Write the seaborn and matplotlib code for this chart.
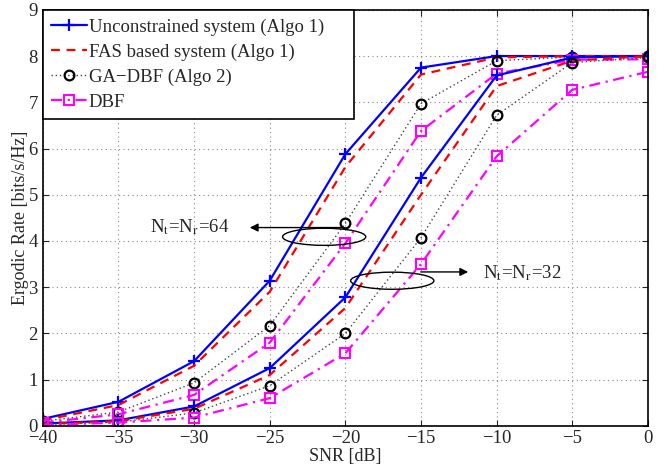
import matplotlib
matplotlib.use("Agg")
import matplotlib.pyplot as plt
import seaborn as sns
import numpy as np
from matplotlib.patches import Ellipse

snr = [-40, -35, -30, -25, -20, -15, -10, -5, 0]

unc_64 = [0.15, 0.52, 1.40, 3.14, 5.88, 7.75, 8.00, 8.00, 8.00]
fas_64 = [0.12, 0.45, 1.30, 2.90, 5.60, 7.60, 7.97, 8.00, 8.00]
ga_64 = [0.10, 0.30, 0.93, 2.17, 4.38, 6.97, 7.90, 7.98, 8.00]
dbf_64 = [0.07, 0.25, 0.67, 1.80, 3.95, 6.38, 7.62, 7.92, 7.93]

unc_32 = [0.05, 0.12, 0.42, 1.25, 2.78, 5.37, 7.58, 7.97, 8.00]
fas_32 = [0.04, 0.10, 0.37, 1.10, 2.55, 5.00, 7.35, 7.90, 8.00]
ga_32 = [0.03, 0.08, 0.28, 0.87, 2.00, 4.07, 6.72, 7.86, 7.97]
dbf_32 = [0.02, 0.07, 0.18, 0.60, 1.57, 3.50, 5.83, 7.27, 7.66]

labels = ["Unconstrained system (Algo 1)", "FAS based system (Algo 1)",
          "GA\u2212DBF (Algo 2)", "DBF"]

sns.set_style("ticks")
plt.rcParams['font.family'] = ['Liberation Serif', 'DejaVu Serif']
plt.rcParams['mathtext.fontset'] = 'stix'

fig = plt.figure(figsize=(6.68, 4.68), dpi=100)
ax = fig.add_axes([0.064, 0.09, 0.906, 0.889])

styles = [
    dict(color="#0000ff", linestyle="-", marker="+", markersize=9, mew=1.6,
         mec="#0000ff", lw=1.6),
    dict(color="#ff0000", linestyle=(0, (4, 3)), marker=None, lw=1.6),
    dict(color="#444444", linestyle=(0, (1, 2)), marker="o", markersize=7, mew=1.6,
         mfc="none", mec="black", lw=1.0),
    dict(color="#ff00ff", linestyle=(0, (5, 2.5, 1, 2.5)), marker="s", markersize=6.5, mew=1.5,
         mfc="none", mec="#ff00ff", lw=1.6),
]

for vals, st, lab in zip([unc_64, fas_64, ga_64, dbf_64], styles, labels):
    sns.lineplot(x=snr, y=vals, ax=ax, label=lab, **st)
for vals, st in zip([unc_32, fas_32, ga_32, dbf_32], styles):
    sns.lineplot(x=snr, y=vals, ax=ax, label="_nolegend_", **st)

ax.set_xlim(-40, 0)
ax.set_ylim(0, 9)
ax.set_xticks(range(-40, 1, 5))
ax.set_yticks(range(0, 10))
ax.set_xticklabels([f"\u2212{abs(v)}" if v < 0 else str(v) for v in range(-40, 1, 5)])
ax.tick_params(direction="in", labelsize=13.5, length=4, width=0.8, top=True, right=True)
ax.tick_params(axis="x", pad=3)
ax.grid(True, linestyle=(0, (1, 3)), color="#888888", lw=0.8)
for sp in ax.spines.values():
    sp.set_linewidth(1.2)
    sp.set_color("black")
ax.set_xlabel("SNR [dB]", fontsize=13, labelpad=1)
ax.set_ylabel("Ergodic Rate [bits/s/Hz]", fontsize=13, labelpad=0)

leg = ax.legend(loc="upper left", bbox_to_anchor=(0, 0, 0.514, 1), mode="expand",
                fontsize=13.5, frameon=True, fancybox=False,
                edgecolor="black", borderaxespad=0, handlelength=1.9,
                handletextpad=0.1, borderpad=0.45, labelspacing=0.42)
leg.get_frame().set_linewidth(1.2)
leg.get_frame().set_alpha(1)

# annotations
ax.add_patch(Ellipse((-21.4, 4.09), 5.5, 0.37, fill=False, ec="black", lw=1.0, zorder=5))
ax.add_patch(Ellipse((-16.9, 3.14), 5.5, 0.37, fill=False, ec="black", lw=1.0, zorder=5))
ax.annotate("", xy=(-26.5, 4.29), xytext=(-19.9, 4.29),
            arrowprops=dict(arrowstyle="-|>", color="black", lw=1.0, mutation_scale=12), zorder=6)
ax.annotate("", xy=(-11.7, 3.33), xytext=(-15.2, 3.33),
            arrowprops=dict(arrowstyle="-|>", color="black", lw=1.0, mutation_scale=12), zorder=6)
ax.text(-30.3, 4.3, r"N$_{\rm t}$=N$_{\rm r}$=64", fontsize=13.5, ha="center", va="center")
ax.text(-10.9, 3.3, r"N$_{\rm t}$=N$_{\rm r}$=32", fontsize=13.5, ha="left", va="center")

fig.savefig("out.png", dpi=100)
